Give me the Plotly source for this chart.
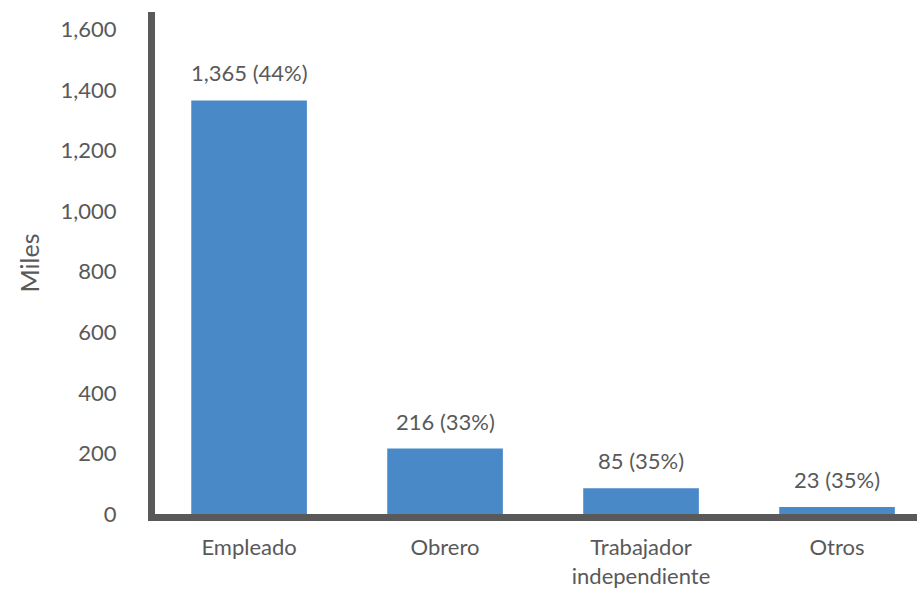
import plotly.graph_objects as go

# Ocupación (miles de personas) y su participación
categorias = ["Empleado", "Obrero", "Trabajador<br>independiente", "Otros"]
valores = [1365, 216, 85, 23]
porcentajes = [44, 33, 35, 35]

etiquetas = [f"{v:,} ({p}%)" for v, p in zip(valores, porcentajes)]

GRIS_TEXTO = "#595959"
GRIS_EJE = "#595959"
AZUL = "#4a89c8"
FUENTE = "Lato"
TAM = 22

fig = go.Figure(
    go.Bar(
        x=list(range(len(categorias))),
        y=valores,
        marker=dict(color=AZUL, line=dict(width=0)),
        width=0.59,
        hoverinfo="skip",
    )
)

for i, (v, t) in enumerate(zip(valores, etiquetas)):
    fig.add_annotation(
        x=i, y=v, text=t, showarrow=False,
        xanchor="center", yanchor="bottom", yshift=12,
        font=dict(family=FUENTE, size=TAM, color=GRIS_TEXTO),
    )

fig.update_layout(
    width=917, height=590,
    margin=dict(l=155, r=0, t=12, b=76),
    paper_bgcolor="white", plot_bgcolor="white",
    showlegend=False,
    font=dict(family=FUENTE, size=TAM, color=GRIS_TEXTO),
    xaxis=dict(
        range=[-0.48, 3.408],
        tickmode="array",
        tickvals=list(range(len(categorias))),
        ticktext=categorias,
        showline=True, linecolor=GRIS_EJE, linewidth=7,
        showgrid=False, zeroline=False, ticks="",
        tickfont=dict(family=FUENTE, size=TAM, color=GRIS_TEXTO),
        ticklabelstandoff=8,
        fixedrange=True,
    ),
    yaxis=dict(
        range=[0, 1657],
        tickmode="array",
        tickvals=[0, 200, 400, 600, 800, 1000, 1200, 1400, 1600],
        ticktext=["0", "200", "400", "600", "800", "1,000", "1,200", "1,400", "1,600"],
        showline=True, linecolor=GRIS_EJE, linewidth=7,
        showgrid=False, zeroline=False, ticks="",
        tickfont=dict(family=FUENTE, size=TAM, color=GRIS_TEXTO),
        ticklabelstandoff=27,
        title=dict(text="Miles", font=dict(family=FUENTE, size=25, color=GRIS_TEXTO), standoff=16),
        fixedrange=True,
    ),
)

fig.write_html("out.html")
